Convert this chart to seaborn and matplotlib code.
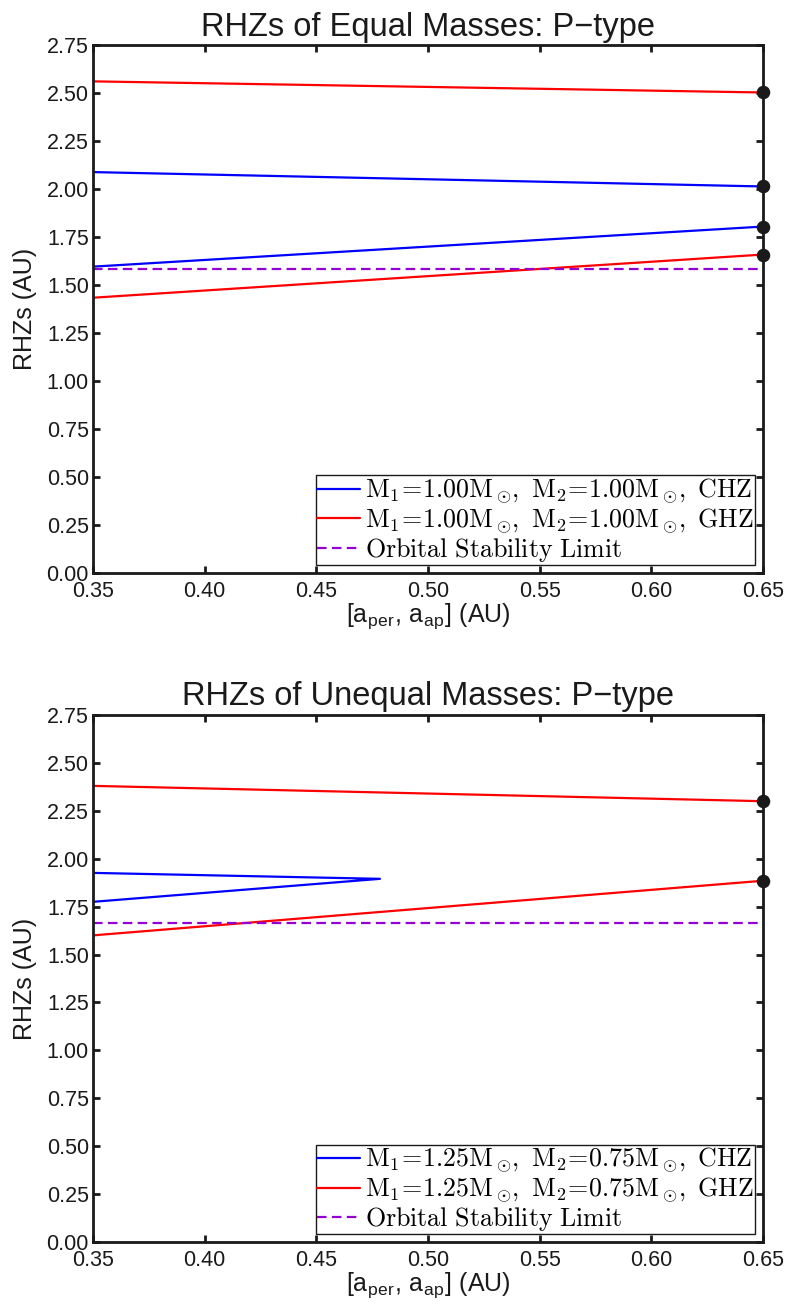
import numpy as np
import pandas as pd
import matplotlib
matplotlib.use('Agg')
import matplotlib.pyplot as plt
import seaborn as sns

# separation range [a_per, a_ap] (AU)
x_ends = [0.35, 0.65]
x_ticks = [0.35, 0.40, 0.45, 0.50, 0.55, 0.60, 0.65]
y_ticks = [0.00, 0.25, 0.50, 0.75, 1.00, 1.25, 1.50, 1.75, 2.00, 2.25, 2.50, 2.75]

# equal masses: M1 = M2 = 1.00 Msun
eq_chz_outer = [2.09, 2.015]
eq_chz_inner = [1.597, 1.806]
eq_ghz_outer = [2.563, 2.505]
eq_ghz_inner = [1.435, 1.66]
eq_stability = 1.587

# unequal masses: M1 = 1.25, M2 = 0.75 Msun
uneq_chz_x = [0.35, 0.4785, 0.35]
uneq_chz_y = [1.926, 1.895, 1.775]
uneq_ghz_outer = [2.38, 2.30]
uneq_ghz_inner = [1.60, 1.885]
uneq_stability = 1.665

titles = ['RHZs of Equal Masses: P\u2212type', 'RHZs of Unequal Masses: P\u2212type']
chz_labels = [r'$\mathrm{M_1\!=\!1.00M_\odot\!,\ M_2\!=\!1.00M_\odot\!,\ CHZ}$',
              r'$\mathrm{M_1\!=\!1.25M_\odot\!,\ M_2\!=\!0.75M_\odot\!,\ CHZ}$']
ghz_labels = [r'$\mathrm{M_1\!=\!1.00M_\odot\!,\ M_2\!=\!1.00M_\odot\!,\ GHZ}$',
              r'$\mathrm{M_1\!=\!1.25M_\odot\!,\ M_2\!=\!0.75M_\odot\!,\ GHZ}$']
stab_label = r'$\mathrm{Orbital\ Stability\ Limit}$'

sns.set_theme(style='ticks')
plt.rcParams['font.family'] = ['Liberation Sans', 'DejaVu Sans']
plt.rcParams['mathtext.fontset'] = 'cm'
plt.rcParams['axes.linewidth'] = 2.0
plt.rcParams['xtick.direction'] = 'in'
plt.rcParams['ytick.direction'] = 'in'
for key in ['text.color', 'axes.labelcolor', 'xtick.color', 'ytick.color', 'axes.edgecolor']:
    plt.rcParams[key] = 'black'

fig = plt.figure(figsize=(7.86, 13.15), dpi=100)
ax_top = fig.add_axes([0.1183, 0.5643, 0.8524, 0.4011])
ax_bot = fig.add_axes([0.1183, 0.0555, 0.8524, 0.4008])

lw = 1.6
dash = (4.3, 2.4)

# top panel
sns.lineplot(x=x_ends, y=eq_chz_outer, color='#0000FF', lw=lw, ax=ax_top, label=chz_labels[0])
sns.lineplot(x=x_ends, y=eq_chz_inner, color='#0000FF', lw=lw, ax=ax_top)
sns.lineplot(x=x_ends, y=eq_ghz_outer, color='#FF0000', lw=lw, ax=ax_top, label=ghz_labels[0])
sns.lineplot(x=x_ends, y=eq_ghz_inner, color='#FF0000', lw=lw, ax=ax_top)
sns.lineplot(x=x_ends, y=[eq_stability, eq_stability], color='#9400D3', lw=lw,
             ax=ax_top, label=stab_label).lines[-1].set_dashes(dash)
top_dots = [eq_ghz_outer[-1], eq_chz_outer[-1], eq_chz_inner[-1], eq_ghz_inner[-1]]
sns.scatterplot(x=[x_ends[-1]] * 4, y=top_dots, color='k', s=95, linewidth=0,
                ax=ax_top, legend=False, clip_on=False, zorder=6)

# bottom panel
sns.lineplot(x=uneq_chz_x, y=uneq_chz_y, sort=False, estimator=None, color='#0000FF',
             lw=lw, ax=ax_bot, label=chz_labels[1])
sns.lineplot(x=x_ends, y=uneq_ghz_outer, color='#FF0000', lw=lw, ax=ax_bot, label=ghz_labels[1])
sns.lineplot(x=x_ends, y=uneq_ghz_inner, color='#FF0000', lw=lw, ax=ax_bot)
sns.lineplot(x=x_ends, y=[uneq_stability, uneq_stability], color='#9400D3', lw=lw,
             ax=ax_bot, label=stab_label).lines[-1].set_dashes(dash)
bot_dots = [uneq_ghz_outer[-1], uneq_ghz_inner[-1]]
sns.scatterplot(x=[x_ends[-1]] * 2, y=bot_dots, color='k', s=95, linewidth=0,
                ax=ax_bot, legend=False, clip_on=False, zorder=6)

for ax, title in zip([ax_top, ax_bot], titles):
    ax.set_xlim(0.35, 0.65)
    ax.set_ylim(0, 2.75)
    ax.set_xticks(x_ticks)
    ax.set_yticks(y_ticks)
    ax.set_xticklabels([f'{v:.2f}' for v in x_ticks])
    ax.set_yticklabels([f'{v:.2f}' for v in y_ticks])
    ax.tick_params(axis='both', which='major', labelsize=15.5, length=5, width=2,
                   top=True, right=True, color='k', labelcolor='k')
    ax.tick_params(axis='x', pad=6)
    ax.tick_params(axis='y', pad=3)
    for sp in ax.spines.values():
        sp.set_visible(True)
        sp.set_color('k')
        sp.set_linewidth(2.0)
    ax.set_title(title, fontsize=23.5, pad=7, color='k')
    ax.set_ylabel('RHZs (AU)', fontsize=18, labelpad=7, color='k')
    ax.set_xlabel(r'[a$_\mathregular{per}$, a$_\mathregular{ap}$] (AU)', fontsize=18,
                  labelpad=-1, color='k')
    leg = ax.legend(loc='lower right', fontsize=18.7, frameon=True, fancybox=False,
                    framealpha=1, edgecolor='k', borderpad=0.05, labelspacing=0.0,
                    handlelength=1.65, handletextpad=0.2, borderaxespad=0.3)
    leg.get_frame().set_linewidth(1.0)

fig.savefig('out.png', dpi=100)
